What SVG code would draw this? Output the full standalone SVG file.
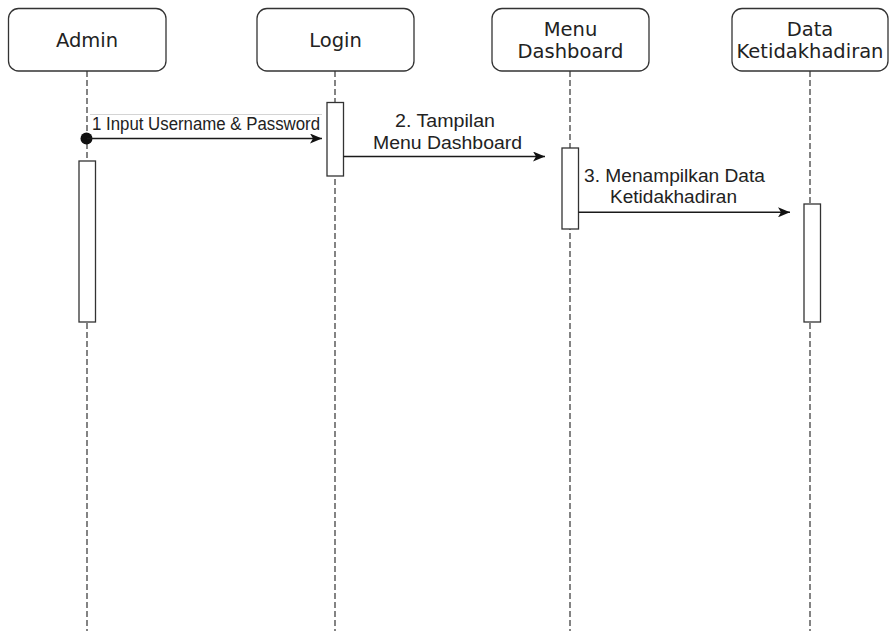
<svg xmlns="http://www.w3.org/2000/svg" width="889" height="631" viewBox="0 0 889 631">
  <style>
    .head { fill: #ffffff; stroke: #333333; stroke-width: 1.3; }
    .head-text { font-family: "DejaVu Sans", Verdana, sans-serif; font-size: 19.5px; fill: #222222; text-anchor: middle; }
    .life { stroke: #333333; stroke-width: 1.2; stroke-dasharray: 6 3; fill: none; }
    .act { fill: #ffffff; stroke: #333333; stroke-width: 1.3; }
    .msg { stroke: #1a1a1a; stroke-width: 1.5; fill: none; marker-end: url(#arrow); }
    .msg-text { font-family: "Liberation Sans", Arial, sans-serif; font-size: 17.5px; fill: #222222; }
  </style>
  <defs>
    <marker id="arrow" viewBox="0 0 12 10" refX="12" refY="5" markerWidth="12" markerHeight="10" markerUnits="userSpaceOnUse" orient="auto">
      <path d="M0,0 L12,5 L0,10 L3,5 Z" fill="#111111"/>
    </marker>
  </defs>
  <rect width="889" height="631" fill="#ffffff"/>

  <!-- lifelines -->
  <g id="lifelines">
    <line class="life" x1="87" y1="71" x2="87" y2="631"/>
    <line class="life" x1="335" y1="71" x2="335" y2="631"/>
    <line class="life" x1="570" y1="71" x2="570" y2="631"/>
    <line class="life" x1="810" y1="71" x2="810" y2="631"/>
  </g>

  <!-- participants -->
  <g id="admin">
    <rect class="head" x="8.5" y="8.5" width="157.5" height="62.5" rx="10"/>
    <text class="head-text" x="87" y="47">Admin</text>
    <rect class="act" x="79" y="161" width="16.5" height="161"/>
  </g>
  <g id="login">
    <rect class="head" x="257" y="8.5" width="157" height="62.5" rx="10"/>
    <text class="head-text" x="335.5" y="47">Login</text>
    <rect class="act" x="327" y="102.5" width="16.5" height="73.5"/>
  </g>
  <g id="menu-dashboard">
    <rect class="head" x="492" y="8.5" width="157" height="62.5" rx="10"/>
    <text class="head-text" x="570.5" y="35.5">Menu</text>
    <text class="head-text" x="570.5" y="57.5">Dashboard</text>
    <rect class="act" x="562" y="148" width="16.5" height="81"/>
  </g>
  <g id="data-ketidakhadiran">
    <rect class="head" x="732" y="8.5" width="156" height="62.5" rx="10"/>
    <text class="head-text" x="810" y="35.5">Data</text>
    <text class="head-text" x="810" y="57.5">Ketidakhadiran</text>
    <rect class="act" x="804" y="204" width="16.5" height="118"/>
  </g>

  <!-- messages -->
  <g id="connectors">
    <line x1="90" y1="114.5" x2="322" y2="114.5" stroke="#d4d4d4" stroke-width="1"/>
    <circle cx="86.5" cy="138.5" r="6" fill="#111111"/>
    <line class="msg" x1="87" y1="138.5" x2="322" y2="138.5"/>
    <text class="msg-text" x="92" y="129.5" font-size="14.4" textLength="228" lengthAdjust="spacingAndGlyphs">1 Input Username &amp; Password</text>

    <line class="msg" x1="343.5" y1="156.5" x2="545" y2="156.5"/>
    <text class="msg-text" x="395" y="126.7" textLength="100" lengthAdjust="spacingAndGlyphs">2. Tampilan</text>
    <text class="msg-text" x="373" y="149.3" textLength="149" lengthAdjust="spacingAndGlyphs">Menu Dashboard</text>

    <line class="msg" x1="578.5" y1="212.3" x2="790" y2="212.3"/>
    <text class="msg-text" x="584" y="181.7" textLength="181" lengthAdjust="spacingAndGlyphs">3. Menampilkan Data</text>
    <text class="msg-text" x="610" y="202.7" textLength="127" lengthAdjust="spacingAndGlyphs">Ketidakhadiran</text>
  </g>
</svg>
